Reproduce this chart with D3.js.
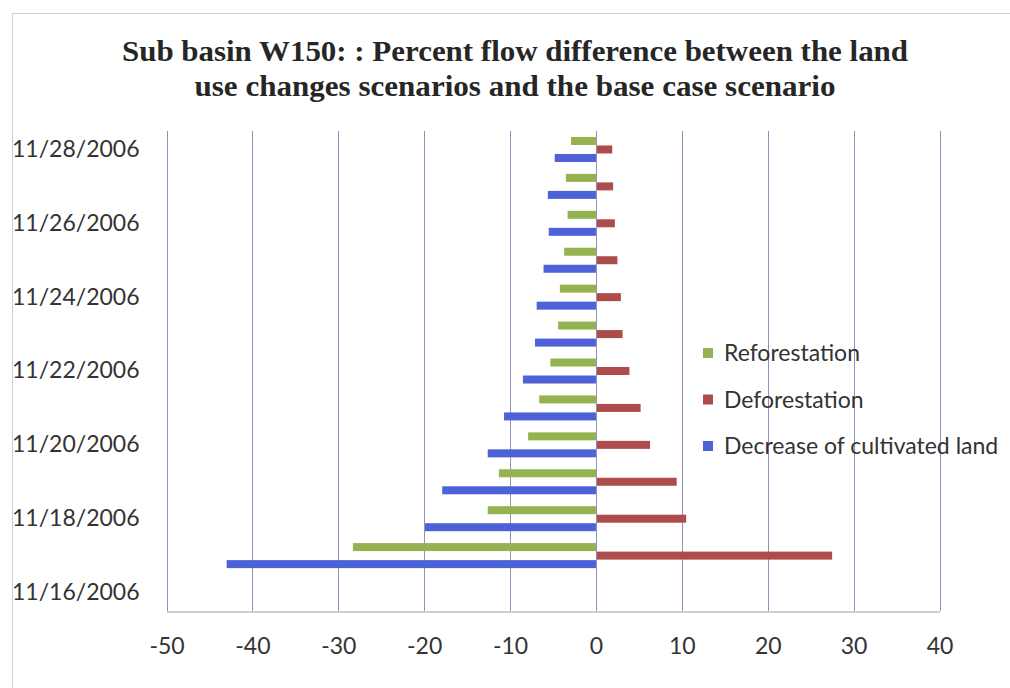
<!DOCTYPE html>
<html>
<head>
<meta charset="utf-8">
<script src="https://cdn.jsdelivr.net/npm/d3@7"></script>
<style>
  html, body { margin: 0; padding: 0; background: #fff; }
  svg { display: block; }
</style>
</head>
<body>
<svg id="chart" width="1010" height="688"></svg>
<script>
// Dates of the simulation period (bottom to top on the chart)
const dates = ["11/16/2006", "11/17/2006", "11/18/2006", "11/19/2006", "11/20/2006",
  "11/21/2006", "11/22/2006", "11/23/2006", "11/24/2006", "11/25/2006",
  "11/26/2006", "11/27/2006", "11/28/2006"];

// Percent flow difference against the base case, per scenario
const reforestation = [0, -28.3, -12.6, -11.3, -7.9, -6.6, -5.3, -4.4, -4.2, -3.7, -3.3, -3.5, -2.9];
const deforestation = [0, 27.5, 10.5, 9.4, 6.3, 5.2, 3.9, 3.1, 2.9, 2.5, 2.2, 2.0, 1.9];
const decreaseCultivated = [0, -43.0, -19.9, -17.9, -12.6, -10.7, -8.5, -7.1, -6.9, -6.1, -5.5, -5.6, -4.8];

const seriesNames = ["Reforestation", "Deforestation", "Decrease of cultivated land"];
const seriesColors = ["#95b250", "#ad4c4a", "#4d62d6"];
const xTicks = [-50, -40, -30, -20, -10, 0, 10, 20, 30, 40];
const dateLabelsShown = ["11/16/2006", "11/18/2006", "11/20/2006", "11/22/2006",
  "11/24/2006", "11/26/2006", "11/28/2006"];
const titleLines = ["Sub basin W150: : Percent flow difference between the land",
  "use changes scenarios and the base case scenario"];

const seriesValues = [reforestation, deforestation, decreaseCultivated];

const svg = d3.select("#chart");
const plot = { left: 166.5, right: 939.5, top: 131, bottom: 611 };
const labelFont = "Lato, 'Open Sans', sans-serif";

// Chart area border
svg.append("rect")
  .attr("x", 12.5).attr("y", 13.5)
  .attr("width", 1100).attr("height", 800)
  .attr("fill", "none")
  .attr("stroke", "#cfcfcf")
  .attr("stroke-width", 1);

// Scales
const x = d3.scaleLinear().domain([-50, 40]).range([plot.left, plot.right]);
const y0 = d3.scaleBand().domain(dates.slice().reverse()).range([plot.top, plot.bottom]).padding(0);
const y1 = d3.scaleBand().domain(seriesNames).range([0, y0.bandwidth()])
  .paddingInner(0.06).paddingOuter(0.7);

// Vertical gridlines
const gridColor = "#9192b8";
svg.append("g")
  .selectAll("line")
  .data(xTicks)
  .join("line")
  .attr("x1", d => Math.round(x(d)) + 0.5)
  .attr("x2", d => Math.round(x(d)) + 0.5)
  .attr("y1", plot.top)
  .attr("y2", plot.bottom)
  .attr("stroke", gridColor)
  .attr("stroke-width", 1);

// Bottom axis line and tick labels (plain hyphen for negatives)
const xAxis = d3.axisBottom(x).tickValues(xTicks).tickSize(0).tickPadding(0).tickFormat(d => String(d));
const gx = svg.append("g")
  .attr("transform", `translate(0,${plot.bottom + 0.5})`)
  .call(xAxis);
gx.select(".domain").attr("stroke", "#9a9aae").attr("stroke-width", 1);
gx.selectAll("text")
  .attr("dy", null)
  .attr("y", 42)
  .attr("font-family", labelFont)
  .attr("font-size", 23)
  .attr("fill", "#333");

// Bars
const groups = svg.append("g")
  .selectAll("g")
  .data(dates)
  .join("g")
  .attr("transform", d => `translate(0,${y0(d)})`);

groups.selectAll("rect")
  .data((d, i) => seriesNames.map((name, s) => ({ name, s, v: seriesValues[s][i] })))
  .join("rect")
  .attr("x", d => x(Math.min(0, d.v)))
  .attr("width", d => Math.abs(x(d.v) - x(0)))
  .attr("y", d => y1(d.name))
  .attr("height", y1.bandwidth())
  .attr("fill", d => seriesColors[d.s]);

// Category axis at zero
svg.append("line")
  .attr("x1", Math.round(x(0)) + 0.5).attr("x2", Math.round(x(0)) + 0.5)
  .attr("y1", plot.top).attr("y2", plot.bottom)
  .attr("stroke", gridColor).attr("stroke-width", 1);

// Date labels on the left (every second date)
const yAxis = d3.axisLeft(y0).tickValues(dateLabelsShown).tickSize(0).tickPadding(27);
const gy = svg.append("g")
  .attr("transform", `translate(${plot.left},0)`)
  .call(yAxis);
gy.select(".domain").remove();
gy.selectAll("text")
  .attr("font-family", labelFont)
  .attr("font-size", 23)
  .attr("fill", "#333");

// Title
svg.append("g")
  .selectAll("text")
  .data(titleLines)
  .join("text")
  .attr("x", 515)
  .attr("y", (d, i) => 61 + i * 35)
  .attr("text-anchor", "middle")
  .attr("font-family", "'Liberation Serif', 'Times New Roman', serif")
  .attr("font-weight", "bold")
  .attr("font-size", 30)
  .attr("fill", "#262626")
  .attr("textLength", (d, i) => i === 0 ? 786 : 641)
  .attr("lengthAdjust", "spacingAndGlyphs")
  .text(d => d);

// Legend
const legend = svg.append("g").attr("transform", "translate(703,0)");
const legendRows = legend.selectAll("g")
  .data(seriesNames)
  .join("g")
  .attr("transform", (d, i) => `translate(0,${361 + i * 46.5})`);
legendRows.append("rect")
  .attr("x", 0).attr("y", -13)
  .attr("width", 10).attr("height", 10)
  .attr("fill", (d, i) => seriesColors[i]);
legendRows.append("text")
  .attr("x", 21).attr("y", 0)
  .attr("font-family", labelFont)
  .attr("font-size", 23)
  .attr("fill", "#333")
  .text(d => d);
</script>
</body>
</html>
